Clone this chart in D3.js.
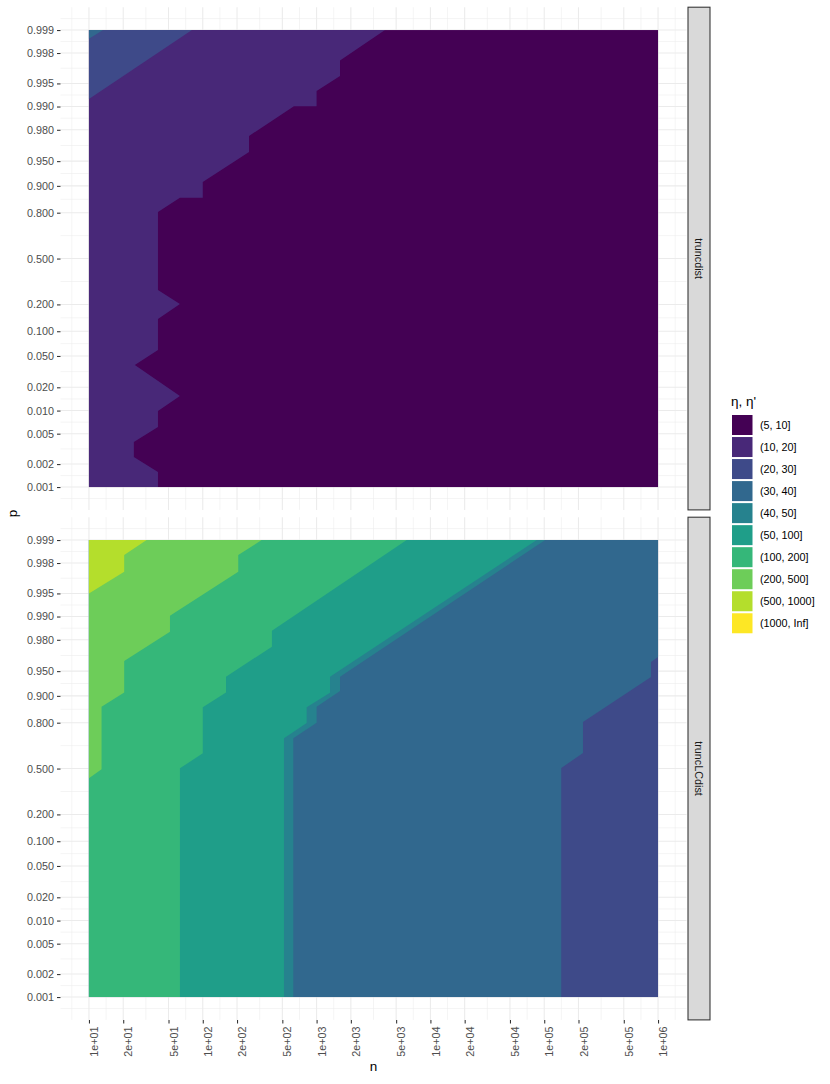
<!DOCTYPE html>
<html>
<head>
<meta charset="utf-8">
<script src="https://cdn.jsdelivr.net/npm/d3@7/dist/d3.min.js"></script>
<style>
  body { margin: 0; background: #fff; }
  svg text { font-family: "Liberation Sans", Arial, Helvetica, sans-serif; }
</style>
</head>
<body>
<svg id="chart" width="830" height="1084"></svg>
<script>
// axis breaks
const nBreaks = [10, 20, 50, 100, 200, 500, 1e3, 2e3, 5e3, 1e4, 2e4, 5e4, 1e5, 2e5, 5e5, 1e6];
const nLabels = ["1e+01", "2e+01", "5e+01", "1e+02", "2e+02", "5e+02", "1e+03", "2e+03",
                 "5e+03", "1e+04", "2e+04", "5e+04", "1e+05", "2e+05", "5e+05", "1e+06"];
const pBreaks = [0.001, 0.002, 0.005, 0.01, 0.02, 0.05, 0.1, 0.2, 0.5, 0.8, 0.9, 0.95, 0.98, 0.99, 0.995, 0.998, 0.999];
const pLabels = ["0.001", "0.002", "0.005", "0.010", "0.020", "0.050", "0.100", "0.200", "0.500",
                 "0.800", "0.900", "0.950", "0.980", "0.990", "0.995", "0.998", "0.999"];

const panels = ["truncdist", "truncLCdist"];
const bandLabels = ["(5, 10]", "(10, 20]", "(20, 30]", "(30, 40]", "(40, 50]",
                    "(50, 100]", "(100, 200]", "(200, 500]", "(500, 1000]", "(1000, Inf]"];

// contour band boundaries [n, p], each running from the top edge down to the left or bottom edge
// truncdist
const trunc10 = [[3990, 0.999], [1606, 0.9975], [1606, 0.996], [1000, 0.9937], [1000, 0.9901], [632, 0.9901],
                 [255, 0.976], [255, 0.9616], [100, 0.91], [100, 0.8627], [63, 0.8627], [40.4, 0.803],
                 [40.4, 0.2785], [63, 0.2017], [40.4, 0.1383], [40.4, 0.0592], [25.3, 0.0384], [63, 0.0154],
                 [40.4, 0.00985], [40.4, 0.0061], [24.8, 0.00388], [24.8, 0.00247], [40.4, 0.00157], [40.4, 0.001]];
const trunc20 = [[80.3, 0.999], [10, 0.992]];
const trunc30 = [[13.3, 0.999], [10, 0.9987]];
// truncLCdist
const lc30 = [[1e6, 0.999], [1e6, 0.9668], [8.67e5, 0.9616], [8.67e5, 0.9408], [2.19e5, 0.8031],
              [2.19e5, 0.615], [1.41e5, 0.5038], [1.41e5, 0.001]];
const lc40 = [[1.02e5, 0.999], [1606, 0.9413], [1606, 0.9124], [1000, 0.8662], [1000, 0.7998],
              [624, 0.7136], [624, 0.001]];
const lc50 = [[8.59e4, 0.999], [1312, 0.9413], [1312, 0.9082], [818, 0.8641], [818, 0.7982],
              [517, 0.7136], [517, 0.001]];
const lc100 = [[6190, 0.999], [405, 0.9847], [405, 0.9755], [160, 0.9413], [160, 0.909], [100, 0.8641],
               [100, 0.6129], [63, 0.5015], [63, 0.001]];
const lc200 = [[329, 0.999], [205, 0.99843], [205, 0.9974], [51.5, 0.9902], [51.5, 0.9843], [20.4, 0.9627],
               [20.4, 0.909], [12.9, 0.8662], [12.9, 0.494], [10, 0.4265]];
const lc500 = [[32.1, 0.999], [20.4, 0.99843], [20.4, 0.9974], [10, 0.995]];

// band under each panel, then [band, boundary] drawn on top in order
const panelBase = [0, 2];
const panelLayers = [
  [[1, trunc10], [2, trunc20], [3, trunc30]],
  [[3, lc30], [4, lc40], [5, lc50], [6, lc100], [7, lc200], [8, lc500]]
];

const viridis = ['#440154', '#482878', '#3E4A89', '#31688E', '#26828E',
                 '#1F9E89', '#35B779', '#6DCD59', '#B4DE2C', '#FDE725'];

const logit = p => Math.log(p / (1 - p));

// layout
const panelLeft = 60.5, panelRight = 686.5;
const panelTops = [7.2, 517.2];
const panelH = 502.7;
const stripX = 688, stripW = 22;

const svg = d3.select('#chart');

const nMin = d3.min(nBreaks), nMax = d3.max(nBreaks);
const pMin = d3.min(pBreaks), pMax = d3.max(pBreaks);
const lx0 = Math.log10(nMin), lx1 = Math.log10(nMax);
const padX = (lx1 - lx0) * 0.05;
const x = d3.scaleLog()
  .domain([Math.pow(10, lx0 - padX), Math.pow(10, lx1 + padX)])
  .range([panelLeft, panelRight]);

const ly0 = logit(pMin), ly1 = logit(pMax);
const padY = (ly1 - ly0) * 0.05;
const yLin = d3.scaleLinear()
  .domain([ly0 - padY, ly1 + padY])
  .range([panelH, 0]);
const y = p => yLin(logit(p));

// minor breaks half way between majors (ggplot style)
function minorBreaks(b, lo, hi) {
  const m = [b[0] - (b[1] - b[0]) / 2];
  for (let i = 0; i < b.length - 1; i++) m.push((b[i] + b[i + 1]) / 2);
  m.push(b[b.length - 1] + (b[b.length - 1] - b[b.length - 2]) / 2);
  return m.filter(v => v >= lo && v <= hi);
}
const xMajor = nBreaks.map(Math.log10);
const xMinor = minorBreaks(xMajor, lx0 - padX, lx1 + padX);
const yMajor = pBreaks.map(logit);
const yMinor = minorBreaks(yMajor, ly0 - padY, ly1 + padY);

const line = d3.line()
  .x(d => x(d[0]))
  .y(d => y(d[1]));

function closeRegion(pts) {
  const out = pts.slice();
  const last = out[out.length - 1];
  if (last[0] > nMin) out.push([nMin, pMin]);
  out.push([nMin, pMax]);
  return out;
}

panels.forEach((name, k) => {
  const g = svg.append('g')
    .attr('transform', 'translate(0,' + panelTops[k] + ')');

  // grid
  g.selectAll('.minor-x').data(xMinor).enter().append('line')
    .attr('x1', d => x(Math.pow(10, d))).attr('x2', d => x(Math.pow(10, d)))
    .attr('y1', 0).attr('y2', panelH)
    .attr('stroke', '#EBEBEB').attr('stroke-width', 0.55);
  g.selectAll('.minor-y').data(yMinor).enter().append('line')
    .attr('x1', panelLeft).attr('x2', panelRight)
    .attr('y1', d => yLin(d)).attr('y2', d => yLin(d))
    .attr('stroke', '#EBEBEB').attr('stroke-width', 0.55);
  g.selectAll('.major-x').data(xMajor).enter().append('line')
    .attr('x1', d => x(Math.pow(10, d))).attr('x2', d => x(Math.pow(10, d)))
    .attr('y1', 0).attr('y2', panelH)
    .attr('stroke', '#EBEBEB').attr('stroke-width', 1.07);
  g.selectAll('.major-y').data(yMajor).enter().append('line')
    .attr('x1', panelLeft).attr('x2', panelRight)
    .attr('y1', d => yLin(d)).attr('y2', d => yLin(d))
    .attr('stroke', '#EBEBEB').attr('stroke-width', 1.07);

  // base band
  g.append('rect')
    .attr('x', x(nMin)).attr('y', y(pMax))
    .attr('width', x(nMax) - x(nMin))
    .attr('height', y(pMin) - y(pMax))
    .attr('fill', viridis[panelBase[k]]);

  // stacked bands
  g.selectAll('.band').data(panelLayers[k]).enter().append('path')
    .attr('class', 'band')
    .attr('d', d => line(closeRegion(d[1])) + 'Z')
    .attr('fill', d => viridis[d[0]]);

  // y axis
  const yAxis = g.append('g')
    .attr('transform', 'translate(' + panelLeft + ',0)')
    .call(d3.axisLeft(yLin).tickValues(yMajor).tickFormat((d, i) => pLabels[i]).tickSize(3.5).tickPadding(3));
  yAxis.select('.domain').remove();
  yAxis.selectAll('line').attr('stroke', '#333333').attr('stroke-width', 1.07);
  yAxis.selectAll('text').attr('fill', '#4D4D4D').attr('font-size', 10.8);

  // strip
  g.append('rect')
    .attr('x', stripX).attr('y', 0)
    .attr('width', stripW).attr('height', panelH)
    .attr('fill', '#D9D9D9')
    .attr('stroke', '#333333').attr('stroke-width', 1.07);
  g.append('text')
    .attr('transform', 'translate(' + (stripX + stripW / 2) + ',' + (panelH / 2) + ') rotate(90)')
    .attr('text-anchor', 'middle')
    .attr('dy', '0.35em')
    .attr('font-size', 10.8)
    .attr('fill', '#1A1A1A')
    .text(name);

  if (k === panels.length - 1) {
    const xAxis = g.append('g')
      .attr('transform', 'translate(0,' + panelH + ')')
      .call(d3.axisBottom(x).tickValues(nBreaks).tickFormat((d, i) => nLabels[i]).tickSize(3.5));
    xAxis.select('.domain').remove();
    xAxis.selectAll('line').attr('stroke', '#333333').attr('stroke-width', 1.07);
    xAxis.selectAll('text')
      .attr('transform', 'rotate(-90)')
      .attr('x', -6.5).attr('y', 0)
      .attr('dy', '0.8em')
      .attr('text-anchor', 'end')
      .attr('fill', '#4D4D4D')
      .attr('font-size', 10.8);
  }
});

// axis titles
svg.append('text')
  .attr('x', (panelLeft + panelRight) / 2).attr('y', 1071)
  .attr('text-anchor', 'middle')
  .attr('font-size', 13.5)
  .text('n');
svg.append('text')
  .attr('transform', 'translate(17,' + ((panelTops[0] + panelTops[1] + panelH) / 2) + ') rotate(-90)')
  .attr('text-anchor', 'middle')
  .attr('font-size', 13.5)
  .text('p');

// legend
const legend = svg.append('g').attr('transform', 'translate(731,0)');
legend.append('text')
  .attr('x', 0).attr('y', 406)
  .attr('font-size', 13.5)
  .text('η, η\'');
const keys = legend.selectAll('.key').data(bandLabels).enter().append('g')
  .attr('transform', (d, i) => 'translate(0,' + (415 + i * 22.03) + ')');
keys.append('rect')
  .attr('x', 1).attr('y', 0)
  .attr('width', 20.5).attr('height', 20)
  .attr('fill', (d, i) => viridis[i]);
keys.append('text')
  .attr('x', 29).attr('y', 10)
  .attr('dy', '0.35em')
  .attr('font-size', 10.8)
  .text(d => d);
</script>
</body>
</html>
